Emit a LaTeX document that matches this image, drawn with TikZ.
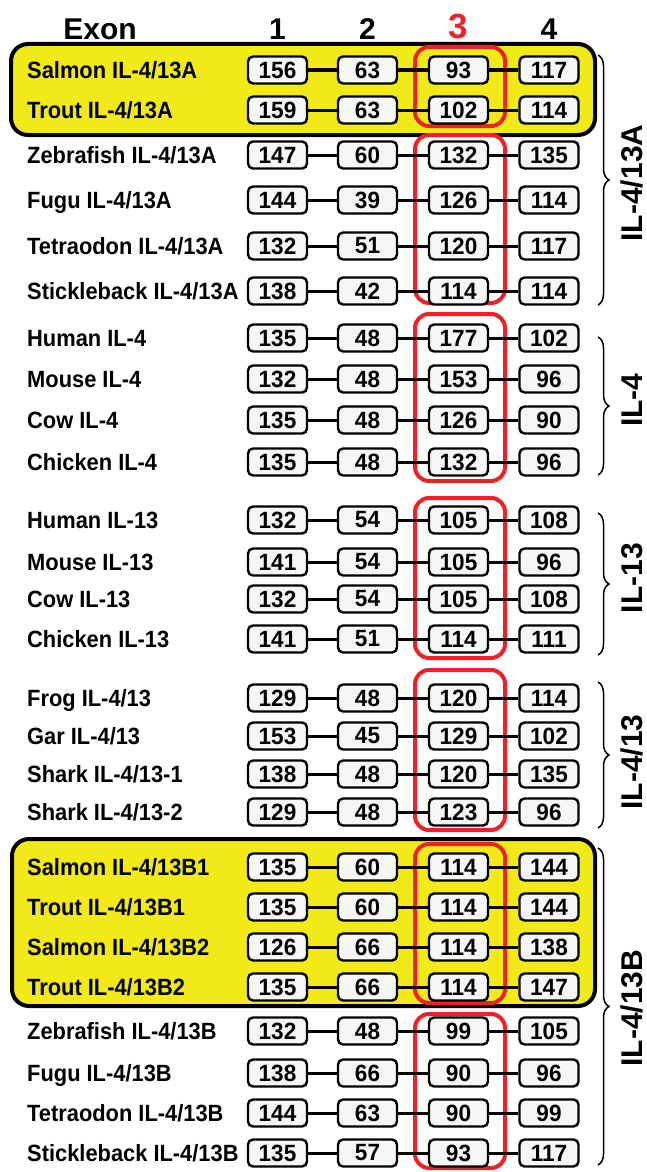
\documentclass[tikz,border=0pt]{standalone}
\usepackage{fontspec}
\newfontfamily\narrowfont{Liberation Sans}[FakeStretch=0.93]
\newfontfamily\digitfont{Liberation Sans}[FakeStretch=0.96]
\newfontfamily\plainfont{Liberation Sans}
\usetikzlibrary{decorations.pathreplacing}
\definecolor{panelyellow}{RGB}{242,233,24}
\definecolor{framered}{RGB}{236,34,39}
\definecolor{boxgray}{RGB}{245,246,246}

\tikzset{
    exonbox/.style={draw, fill=boxgray, line width=2.4pt, rounded corners=5pt,
        minimum width=59pt, minimum height=27pt, inner sep=0pt,
        font=\digitfont\bfseries\fontsize{23.5}{23.5}\selectfont},
    rowlabel/.style={anchor=base west, inner sep=0pt,
        font=\narrowfont\bfseries\fontsize{23.5}{23.5}\selectfont},
    headlabel/.style={anchor=base, inner sep=0pt,
        font=\plainfont\bfseries\fontsize{30}{30}\selectfont},
    grouplabel/.style={rotate=90, inner sep=0pt,
        font=\plainfont\bfseries\fontsize{30}{30}\selectfont},
    linkline/.style={line width=3pt},
    redframe/.style={draw=framered, line width=4pt, rounded corners=14pt},
    yellowpanel/.style={fill=panelyellow, draw=black, line width=4pt, rounded corners=17pt},
    groupbrace/.style={decorate, decoration={brace, amplitude=11pt}, line width=1.5pt}
}

\begin{document}
\begin{tikzpicture}[x=1pt, y=-1pt]
    \useasboundingbox (0,0) rectangle (647,1172);

    % Salmoniden-Gruppen
    \draw[yellowpanel] (11,44) rectangle (595,135);
    \draw[yellowpanel] (12,839) rectangle (595,1006);

    % Exon 3
    \draw[redframe] (415,47) rectangle (505,126);
    \draw[redframe] (415,135) rectangle (505,303);
    \draw[redframe] (415,314) rectangle (505,481);
    \draw[redframe] (415,498) rectangle (505,658);
    \draw[redframe] (415,670) rectangle (505,830);
    \draw[redframe] (415,844) rectangle (505,1003);
    \draw[redframe] (415,1014) rectangle (505,1168);

    % Kopfzeile
    \node[headlabel] (hexon) at (100,40) {Exon};
    \node[headlabel] (h1) at (277.5,40) {1};
    \node[headlabel] (h2) at (367.5,40) {2};
    \node[headlabel, text=framered, font=\plainfont\bfseries\fontsize{35}{35}\selectfont] (h3) at (458.5,38) {3};
    \node[headlabel] (h4) at (549,40) {4};

    % Zeilen
    \foreach \y/\name/\a/\b/\c/\d [count=\i] in {
        70/{Salmon IL-4/13A}/156/63/93/117,
        110/{Trout IL-4/13A}/159/63/102/114,
        155/{Zebrafish IL-4/13A}/147/60/132/135,
        200/{Fugu IL-4/13A}/144/39/126/114,
        246/{Tetraodon IL-4/13A}/132/51/120/117,
        291/{Stickleback IL-4/13A}/138/42/114/114,
        338/{Human IL-4}/135/48/177/102,
        379/{Mouse IL-4}/132/48/153/96,
        420/{Cow IL-4}/135/48/126/90,
        462/{Chicken IL-4}/135/48/132/96,
        520/{Human IL-13}/132/54/105/108,
        562/{Mouse IL-13}/141/54/105/96,
        599/{Cow IL-13}/132/54/105/108,
        639/{Chicken IL-13}/141/51/114/111,
        698/{Frog IL-4/13}/129/48/120/114,
        736/{Gar IL-4/13}/153/45/129/102,
        774/{Shark IL-4/13-1}/138/48/120/135,
        812/{Shark IL-4/13-2}/129/48/123/96,
        867/{Salmon IL-4/13B1}/135/60/114/144,
        907/{Trout IL-4/13B1}/135/60/114/144,
        947/{Salmon IL-4/13B2}/126/66/114/138,
        987/{Trout IL-4/13B2}/135/66/114/147,
        1031/{Zebrafish IL-4/13B}/132/48/99/105,
        1073/{Fugu IL-4/13B}/138/66/90/96,
        1113/{Tetraodon IL-4/13B}/144/63/90/99,
        1153/{Stickleback IL-4/13B}/135/57/93/117} {
        \node[rowlabel] (n\i) at (27,\y+8) {\name};
        \node[exonbox] (e\i-1) at (277.5,\y) {\a};
        \node[exonbox] (e\i-2) at (367.5,\y) {\b};
        \node[exonbox] (e\i-3) at (458.5,\y) {\c};
        \node[exonbox] (e\i-4) at (549,\y) {\d};
        \draw[linkline] (e\i-1) -- (e\i-2);
        \draw[linkline] (e\i-2) -- (e\i-3);
        \draw[linkline] (e\i-3) -- (e\i-4);
    }

    % Klammern
    \draw[groupbrace] (598,55) -- (598,305);
    \draw[groupbrace] (598,337) -- (598,475);
    \draw[groupbrace] (598,513) -- (598,655);
    \draw[groupbrace] (598,682) -- (598,828);
    \draw[groupbrace] (598,848) -- (598,1165);
    \node[grouplabel] (gA) at (632,183) {IL-4/13A};
    \node[grouplabel] (g4) at (632,400) {IL-4};
    \node[grouplabel] (g13) at (632,578) {IL-13};
    \node[grouplabel] (g413) at (632,762) {IL-4/13};
    \node[grouplabel] (gB) at (632,1008) {IL-4/13B};
\end{tikzpicture}
\end{document}
